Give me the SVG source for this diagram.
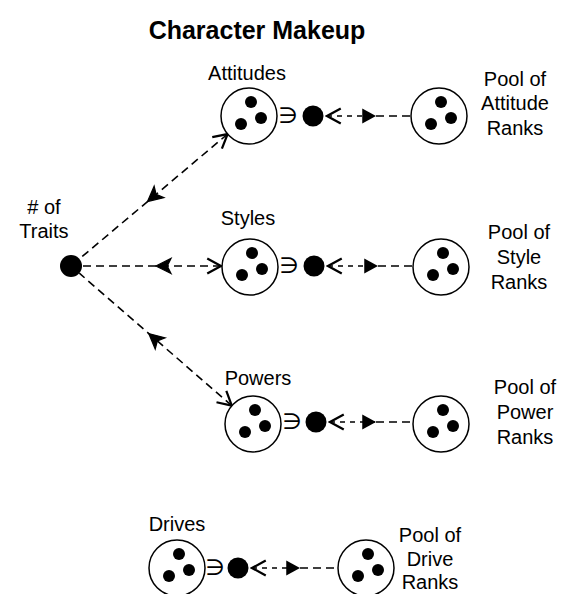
<svg xmlns="http://www.w3.org/2000/svg" width="565" height="594" viewBox="0 0 565 594">
<defs>
<style>
.t{font-family:"Liberation Sans",Arial,sans-serif;font-size:20px;fill:#000;text-anchor:middle}
.title{font-family:"Liberation Sans",Arial,sans-serif;font-size:25px;font-weight:bold;fill:#000;text-anchor:middle}
.sym{font-family:"DejaVu Sans",sans-serif;font-size:22px;fill:#000;text-anchor:middle}
.ring{fill:#fff;stroke:#000;stroke-width:1.5}
.pip{fill:#000}
.dot{fill:#000}
.c{fill:none;stroke:#000;stroke-width:1.6;stroke-dasharray:8 5}
.s{fill:none;stroke:#000;stroke-width:1.6;stroke-dasharray:5 5}
.tr{marker-start:url(#open);marker-mid:url(#notch)}
.ms{marker-start:url(#open)}
.me{marker-start:url(#tri)}
</style>
<marker id="open" markerUnits="userSpaceOnUse" markerWidth="20" markerHeight="20" viewBox="-14 -8 16 16" refX="0" refY="0" orient="auto-start-reverse">
<path d="M-11,-6 L0,0 L-11,6" fill="none" stroke="#000" stroke-width="1.8"/>
</marker>
<marker id="notch" markerUnits="userSpaceOnUse" markerWidth="20" markerHeight="20" viewBox="-14 -8 16 16" refX="0" refY="0" orient="auto">
<path d="M-12,-6 L0,0 L-12,6 L-9,0 Z" fill="#000" stroke="#000" stroke-width="1"/>
</marker>
<marker id="tri" markerUnits="userSpaceOnUse" markerWidth="20" markerHeight="20" viewBox="-14 -8 16 16" refX="0" refY="0" orient="auto">
<path d="M-11,-6 L0,0 L-11,6 Z" fill="#000"/>
</marker>
<g id="pool">
<circle class="ring" cx="0" cy="0" r="28"/>
<circle class="pip" cx="2" cy="-14" r="6"/>
<circle class="pip" cx="-8" cy="8" r="6"/>
<circle class="pip" cx="12" cy="2" r="6"/>
</g>
</defs>

<text class="title" x="257" y="39">Character Makeup</text>

<g id="connectors">
<path class="c tr" d="M227.6,134.1 L147.5,201.6 L79.4,258.9"/>
<path class="c tr" d="M221,266 L156,266 L82,266"/>
<path class="c tr" d="M231.8,405.6 L148.8,333.6 L79.3,273.2"/>
<path class="s ms" d="M327,116 L376,116"/>
<path class="c me" d="M376,116 L411,116"/>
<path class="s ms" d="M328,266 L378,266"/>
<path class="c me" d="M378,266 L413,266"/>
<path class="s ms" d="M330,422 L376,422"/>
<path class="c me" d="M376,422 L413,422"/>
<path class="s ms" d="M252,568 L300,568"/>
<path class="c me" d="M300,568 L338,568"/>
</g>

<g id="traits">
<circle class="dot" cx="71" cy="266" r="11"/>
<text class="t" x="44" y="214">#  of</text>
<text class="t" x="44" y="238">Traits</text>
</g>

<g id="attitudes">
<text class="t" x="247" y="80">Attitudes</text>
<use href="#pool" x="249" y="116"/>
<text class="sym" x="288" y="123">∋</text>
<circle class="dot" cx="313" cy="116" r="10.5"/>
</g>
<g id="attitude-pool">
<use href="#pool" x="439" y="116"/>
<text class="t" x="515" y="86">Pool of</text>
<text class="t" x="515" y="110">Attitude</text>
<text class="t" x="515" y="135">Ranks</text>
</g>

<g id="styles">
<text class="t" x="248" y="225">Styles</text>
<use href="#pool" x="250" y="267"/>
<text class="sym" x="289" y="273">∋</text>
<circle class="dot" cx="314" cy="266" r="10.5"/>
</g>
<g id="style-pool">
<use href="#pool" x="441" y="267"/>
<text class="t" x="519" y="239">Pool of</text>
<text class="t" x="519" y="264">Style</text>
<text class="t" x="519" y="289">Ranks</text>
</g>

<g id="powers">
<text class="t" x="258" y="385">Powers</text>
<use href="#pool" x="253" y="424"/>
<text class="sym" x="292" y="429">∋</text>
<circle class="dot" cx="316" cy="422" r="10.5"/>
</g>
<g id="power-pool">
<use href="#pool" x="441" y="424"/>
<text class="t" x="525" y="394">Pool of</text>
<text class="t" x="525" y="419">Power</text>
<text class="t" x="525" y="444">Ranks</text>
</g>

<g id="drives">
<text class="t" x="177" y="531">Drives</text>
<use href="#pool" x="177" y="568"/>
<text class="sym" x="215" y="575">∋</text>
<circle class="dot" cx="238" cy="568" r="10.5"/>
</g>
<g id="drive-pool">
<use href="#pool" x="366" y="568"/>
<text class="t" x="430" y="542">Pool of</text>
<text class="t" x="430" y="566">Drive</text>
<text class="t" x="430" y="589">Ranks</text>
</g>
</svg>
